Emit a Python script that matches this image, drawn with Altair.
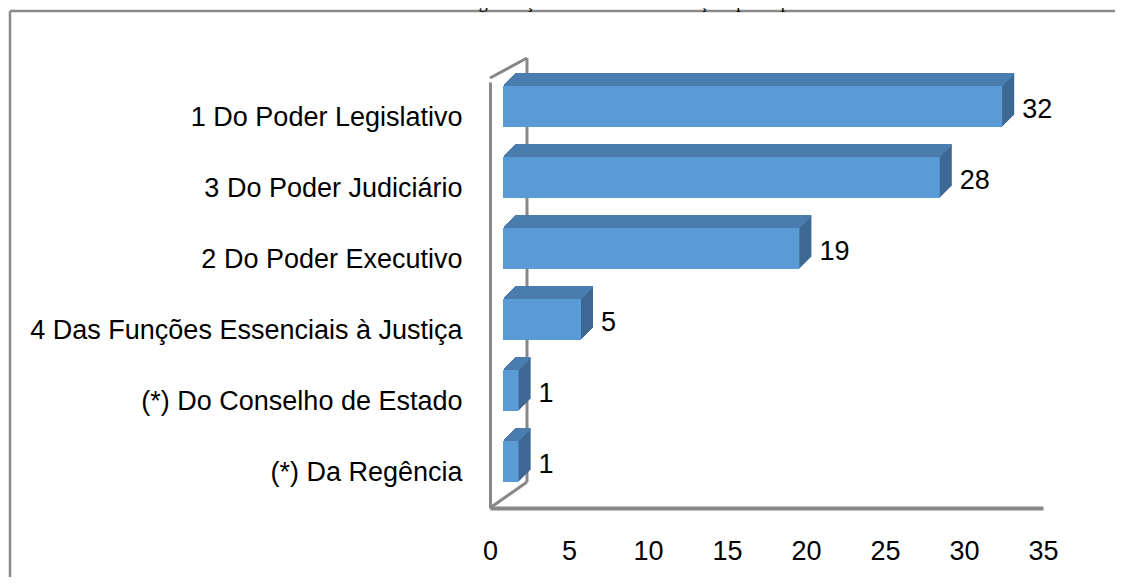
import altair as alt
import pandas as pd

TITLE = "Gráfico 6: Título IV – Organização dos Poderes – alterações por capítulo"
CATEGORIES = [
    "1 Do Poder Legislativo",
    "3 Do Poder Judiciário",
    "2 Do Poder Executivo",
    "4 Das Funções Essenciais à Justiça",
    "(*) Do Conselho de Estado",
    "(*) Da Regência",
]
VALUES = [32, 28, 19, 5, 1, 1]
TICKS = [0, 5, 10, 15, 20, 25, 30, 35]

FRONT = "#5B9BD5"
TOP = "#4A7CAE"
SIDE = "#3C6893"
WALL = "#888888"
FONT = "Liberation Sans"
FS = 27

df = pd.DataFrame({"cat": CATEGORIES, "val": VALUES})
ticks_df = pd.DataFrame({"t": TICKS})
one = pd.DataFrame({"title": [TITLE]})

yscale = alt.Scale(domain=CATEGORIES, range=[4, 430], paddingInner=0, paddingOuter=0)
bar_x = alt.Scale(domain=[0, 35], range=[13, 559])
floor_x = alt.Scale(domain=[0, 35], range=[0, 553])

Y = alt.Y("cat:N", sort=CATEGORIES, scale=yscale,
          axis=alt.Axis(title=None, ticks=False, domain=True, domainColor=WALL,
                        domainWidth=3, labelFontSize=FS, labelFont=FONT,
                        labelColor="#000000", labelPadding=28, labelLimit=600))

frame_style = dict(color="#8a8a8a", strokeWidth=2.5)
frame_left = alt.Chart(one).mark_rule(**frame_style).encode(
    x=alt.value(-480), x2=alt.value(-480), y=alt.value(-67), y2=alt.value(510))
frame_top = alt.Chart(one).mark_rule(**frame_style).encode(
    x=alt.value(-480), x2=alt.value(625), y=alt.value(-67), y2=alt.value(-67))

title = alt.Chart(one).mark_text(font="Liberation Serif", fontSize=18, align="center",
                                 baseline="alphabetic", color="#000000").encode(
    text="title:N", x=alt.value(70), y=alt.value(-70))

wall_style = dict(color=WALL, strokeWidth=3)
w1 = alt.Chart(one).mark_rule(**wall_style).encode(
    x=alt.value(0), x2=alt.value(37), y=alt.value(0), y2=alt.value(-20))
w2 = alt.Chart(one).mark_rule(**wall_style).encode(
    x=alt.value(37), x2=alt.value(37), y=alt.value(-20), y2=alt.value(404))
w3 = alt.Chart(one).mark_rule(**wall_style).encode(
    x=alt.value(0), x2=alt.value(37), y=alt.value(430), y2=alt.value(404))

layers = [frame_left, frame_top, title, w1, w2, w3]

# right side / depth of the bars
for k in range(1, 13):
    layers.append(
        alt.Chart(df).mark_bar(size=41, xOffset=k, yOffset=-11 - k, color=SIDE).encode(
            x=alt.X("val:Q", scale=bar_x, axis=None), y=Y))
# top face
for k in range(1, 13):
    layers.append(
        alt.Chart(df).mark_bar(size=2, xOffset=k, yOffset=-31.5 - k, color=TOP).encode(
            x=alt.X("val:Q", scale=bar_x, axis=None), y=Y))
# front face
layers.append(
    alt.Chart(df).mark_bar(size=41, yOffset=-11, color=FRONT).encode(
        x=alt.X("val:Q", scale=bar_x, axis=None), y=Y))
# value labels
layers.append(
    alt.Chart(df).mark_text(align="left", baseline="middle", dx=20, dy=-8,
                            fontSize=FS, font=FONT, color="#000000").encode(
        x=alt.X("val:Q", scale=bar_x, axis=None), y=Y, text="val:Q"))
# floor axis
layers.append(
    alt.Chart(ticks_df).mark_tick(opacity=0).encode(
        x=alt.X("t:Q", scale=floor_x,
                axis=alt.Axis(values=TICKS, title=None, ticks=False, grid=False,
                              domainColor=WALL, domainWidth=4, labelFontSize=FS,
                              labelFont=FONT, labelColor="#000000", labelPadding=30,
                              labelFlush=False))))

chart = alt.layer(*layers).resolve_scale(x="independent").properties(
    width=553, height=430,
    autosize=alt.AutoSizeParams(type="none"),
    padding={"left": 482, "top": 70, "right": 72, "bottom": 69},
    background="white",
).configure_view(stroke="transparent")

chart.save("out.html", embed_options={"renderer": "svg", "actions": False})
